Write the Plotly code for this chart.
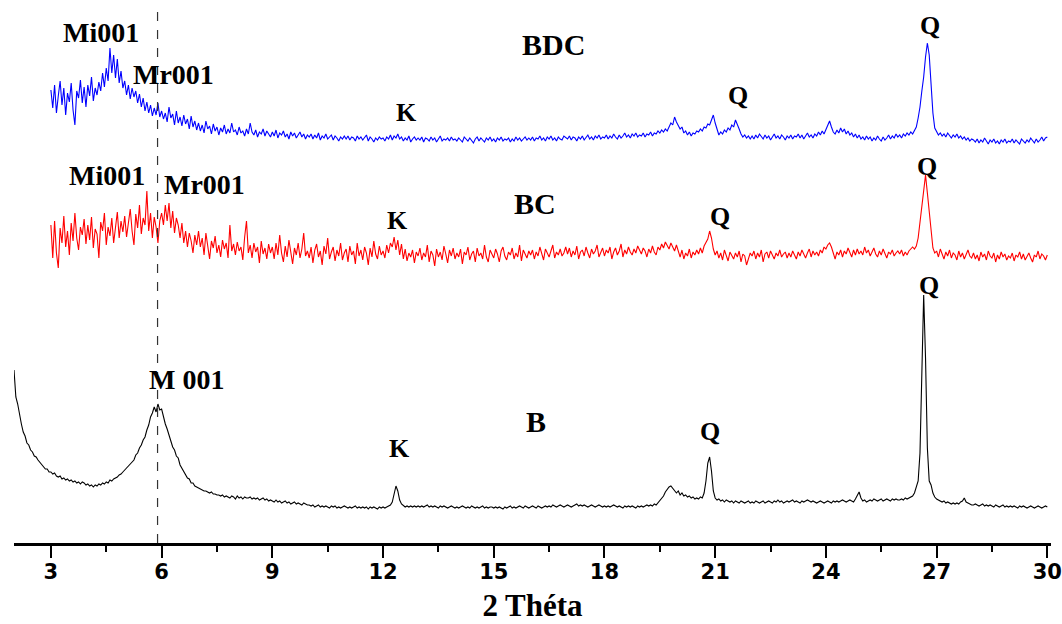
import numpy as np
import plotly.graph_objects as go

# XRD patterns: intensity (a.u., stacked offsets) vs 2θ, step 0.05°
STEP = 0.05
B_START = 2.0      # raw bentonite pattern starts at 2°
BC_START = 3.0     # BC and BDC patterns start at 3°

b_intensity = [
    173,146,139,127,119,111,107,100,98,93,91,87,86,83,81,78,77,74,74,71,
    71,69,70,67,66,67,64,65,63,64,62,63,61,62,60,61,59,61,60,58,
    59,57,58,56,58,57,59,58,60,59,61,60,63,62,64,65,66,68,69,71,
    73,74,77,78,81,83,88,90,95,98,103,106,113,118,126,130,136,131,139,133,
    134,125,119,114,107,102,96,93,87,85,78,75,71,69,65,64,60,60,57,56,
    55,54,53,52,52,51,50,51,49,49,48,48,47,48,46,47,46,45,47,46,
    44,47,45,46,44,46,45,45,46,44,45,44,45,43,44,45,43,44,42,43,
    42,41,43,41,42,40,41,42,40,41,39,40,41,39,40,39,38,40,39,38,
    38,37,38,36,37,38,36,37,36,37,36,35,37,36,37,35,36,35,36,37,
    36,35,36,35,36,37,35,36,35,36,35,36,34,36,35,36,35,34,36,35,
    36,35,36,37,38,41,48,57,52,43,39,37,36,37,36,37,36,37,36,37,
    36,37,36,37,38,36,37,36,37,36,35,37,36,37,36,35,36,37,36,35,
    36,35,36,37,36,35,36,35,37,36,35,36,35,36,37,35,36,35,36,36,
    35,36,35,36,35,34,36,35,36,37,35,36,35,36,37,36,35,37,36,35,
    36,37,36,35,37,36,35,36,37,36,37,36,38,37,36,37,38,37,36,37,
    38,37,36,37,38,39,37,38,37,38,37,36,37,38,37,36,37,38,37,36,
    37,36,37,36,37,38,37,36,37,36,35,37,36,37,36,37,36,35,37,36,
    37,36,37,38,37,38,37,39,38,40,42,44,47,51,54,56,57,55,52,50,
    52,48,50,47,48,46,47,45,46,44,45,44,46,45,50,62,80,86,72,52,
    45,43,44,42,43,41,43,42,41,42,40,42,41,40,42,41,40,41,42,40,
    41,40,42,41,40,41,42,40,41,42,41,40,42,41,43,41,42,40,41,42,
    41,42,43,41,42,41,40,42,41,42,43,42,41,42,41,40,41,42,41,40,
    41,42,41,40,42,41,42,41,42,43,42,41,42,43,42,41,44,48,51,45,
    42,43,41,42,43,42,44,43,42,43,44,42,43,44,43,42,44,43,44,43,
    43,44,43,45,44,45,46,47,50,55,62,90,170,248,185,95,62,58,50,46,
    44,43,42,41,42,40,41,40,39,40,39,40,39,41,42,45,41,40,39,38,
    38,39,38,37,38,39,37,38,37,38,37,36,38,37,36,37,38,36,37,36,
    37,36,37,36,35,37,36,37,36,35,36,37,36,35,36,37,36,35,36,37,
    36,
]

bc_intensity = [
    318,285,322,290,275,315,300,327,296,312,288,320,302,330,305,293,316,308,324,299,
    318,303,326,295,314,309,285,321,312,330,298,316,307,325,300,318,331,305,322,311,
    327,306,320,334,312,298,329,315,338,309,325,318,352,312,330,305,326,316,300,322,
    330,318,338,322,340,315,332,310,325,318,305,320,300,312,296,310,302,290,308,298,
    312,296,305,288,310,299,284,302,295,307,290,298,286,303,294,300,285,318,292,299,
    288,301,292,296,283,306,322,290,298,285,300,291,296,280,302,289,295,284,299,290,
    296,284,300,288,308,290,281,297,286,303,291,279,295,288,300,285,294,310,287,292,
    285,296,280,293,299,286,292,278,297,289,305,284,291,296,282,293,287,300,283,290,
    294,281,297,288,292,279,300,287,293,283,296,290,278,295,286,302,289,284,297,288,
    292,285,298,290,300,296,306,293,303,288,299,284,294,282,290,286,293,280,291,287,
    295,283,290,286,298,281,292,288,277,294,286,291,283,297,289,280,293,287,295,284,
    290,286,294,279,291,288,296,283,289,292,281,295,287,290,284,298,286,281,293,288,
    285,294,289,281,292,296,287,283,291,288,295,284,290,286,298,282,293,289,285,292,
    288,293,284,291,287,296,290,283,294,289,286,292,298,285,291,288,294,287,290,296,
    289,295,286,292,288,297,284,291,293,287,296,290,285,294,289,292,298,286,291,295,
    287,293,290,296,284,291,295,288,292,299,286,293,289,296,291,288,294,290,297,292,
    289,295,292,286,294,290,297,291,288,296,293,299,295,301,297,294,300,296,292,298,
    291,286,293,284,290,287,294,285,291,288,293,289,295,290,297,300,304,312,305,294,
    288,292,285,290,283,293,287,282,291,288,284,290,286,292,281,289,287,278,285,290,
    287,292,284,290,286,293,281,289,291,285,292,288,284,290,287,293,286,289,291,285,
    290,286,292,288,284,291,287,293,289,285,290,294,286,292,288,291,287,293,290,296,
    294,298,300,296,290,284,291,288,293,286,292,289,295,290,286,293,288,294,289,292,
    288,296,290,293,287,291,295,289,286,292,288,294,290,285,291,289,293,287,290,292,
    289,293,287,291,288,292,294,296,294,297,305,322,335,356,368,350,330,311,295,290,
    292,286,294,289,284,291,287,293,285,290,288,283,292,286,290,284,289,293,287,285,
    290,284,288,282,291,286,289,283,292,287,285,290,281,288,284,291,286,289,283,287,
    285,290,282,288,286,291,284,289,283,287,290,285,281,288,286,292,284,289,287,283,
    288,
]

bdc_intensity = [
    453,435,458,430,447,462,438,455,428,450,441,460,433,418,452,445,463,440,456,436,
    458,447,466,442,455,448,461,452,470,456,475,462,495,470,488,465,484,460,472,455,
    462,448,458,444,455,446,452,440,449,436,445,432,441,430,438,427,435,428,440,426,
    432,424,430,421,436,425,429,418,432,420,426,417,428,419,424,414,427,416,422,413,
    420,412,418,410,422,414,417,409,419,412,416,408,415,411,418,409,414,410,420,411,
    413,408,416,410,412,407,414,409,420,411,408,413,406,411,409,414,407,412,409,406,
    411,407,413,405,410,408,412,406,409,404,411,407,410,405,408,411,406,409,404,408,
    406,409,404,408,405,410,403,407,405,409,404,406,408,403,407,405,402,406,404,407,
    404,407,403,406,405,402,407,404,406,403,405,408,402,406,404,401,405,403,406,404,
    405,402,406,404,408,403,407,405,409,404,406,402,405,403,407,401,404,406,403,405,
    403,406,401,405,404,402,406,403,405,401,404,407,402,404,403,405,402,406,403,404,
    402,405,403,401,406,404,402,405,403,400,404,406,402,405,403,401,405,403,406,402,
    404,401,405,403,406,402,404,403,405,401,404,402,406,403,405,402,404,406,403,405,
    403,406,402,405,404,407,403,405,402,406,404,407,403,405,402,406,404,403,407,405,
    404,407,403,406,405,402,406,404,407,403,405,408,404,406,403,407,405,408,404,406,
    405,408,404,407,405,409,406,404,408,405,407,410,406,408,405,409,407,410,406,408,
    407,410,406,409,408,411,407,410,409,412,410,413,411,414,412,416,420,418,426,421,
    418,414,416,410,412,408,411,407,410,409,412,411,414,412,416,415,419,418,423,428,
    420,413,408,411,409,413,411,415,413,418,416,423,419,414,409,406,408,405,407,404,
    407,404,408,405,409,406,404,408,405,407,403,406,409,405,407,404,408,406,403,407,
    405,408,404,407,406,409,405,408,404,407,410,406,408,405,409,407,411,408,412,409,
    413,418,422,416,411,409,413,410,415,411,414,409,412,408,410,406,409,405,408,404,
    406,403,407,404,406,402,405,403,407,404,402,406,403,405,408,404,407,405,409,406,
    408,405,409,407,410,408,411,409,413,416,425,436,452,466,486,500,488,462,430,415,
    411,408,410,407,409,406,410,407,405,408,406,409,405,407,404,406,403,405,402,404,
    403,401,404,400,403,401,405,402,399,403,401,404,400,402,399,403,401,404,400,402,
    401,404,400,403,401,399,404,402,400,403,401,405,402,400,404,401,403,406,402,405,
    406,
]

two_theta_b = np.round(B_START + STEP * np.arange(len(b_intensity)), 2)
two_theta_bc = np.round(BC_START + STEP * np.arange(len(bc_intensity)), 2)
two_theta_bdc = np.round(BC_START + STEP * np.arange(len(bdc_intensity)), 2)

# reflection labels: (text, 2θ, intensity level, font size)
peak_labels = [
    ("Mi001", 4.35, 511, 28), ("Mr001", 6.33, 469, 28), ("BDC", 16.63, 499, 30),
    ("K", 12.63, 431, 26), ("Q", 21.63, 448, 26), ("Q", 26.83, 518, 26),
    ("Mi001", 4.52, 368, 28), ("Mr001", 7.17, 359, 28), ("BC", 16.12, 340, 30),
    ("K", 12.39, 323, 26), ("Q", 21.12, 327, 26), ("Q", 26.75, 377, 26),
    ("M 001", 6.68, 164, 28), ("K", 12.44, 95, 26), ("B", 16.14, 122, 30),
    ("Q", 20.85, 112, 26), ("Q", 26.80, 258, 26),
]

MONT_001 = 5.89  # montmorillonite d001 position

fig = go.Figure()
fig.add_trace(go.Scatter(x=two_theta_b, y=b_intensity, mode="lines",
                         line=dict(color="black", width=1.1), name="B"))
fig.add_trace(go.Scatter(x=two_theta_bc, y=bc_intensity, mode="lines",
                         line=dict(color="#ff0000", width=1.1), name="BC"))
fig.add_trace(go.Scatter(x=two_theta_bdc, y=bdc_intensity, mode="lines",
                         line=dict(color="#0000ff", width=1.1), name="BDC"))

fig.add_shape(type="line", xref="x", yref="y", x0=MONT_001, x1=MONT_001,
              y0=0, y1=533, line=dict(color="#333333", width=1.2, dash="dash"))

for text, xv, yv, size in peak_labels:
    fig.add_annotation(x=xv, y=yv, xref="x", yref="y", text=text, showarrow=False,
                       font=dict(family="Liberation Serif", size=size,
                                 color="black", weight="bold"))

fig.update_layout(
    width=1062, height=624,
    margin=dict(l=14, r=9, t=0, b=81),
    paper_bgcolor="white", plot_bgcolor="white",
    showlegend=False,
    xaxis=dict(
        range=[2, 30.1], tickmode="linear", tick0=0, dtick=3,
        showline=True, linecolor="black", linewidth=2.5,
        ticks="outside", ticklen=12, tickwidth=2, tickcolor="black",
        minor=dict(dtick=1.5, tick0=0, ticks="outside", ticklen=6,
                   tickwidth=1.5, tickcolor="black"),
        showgrid=False, zeroline=False,
        ticklabeloverflow="allow", ticklabelstandoff=-4,
        tickfont=dict(family="DejaVu Sans", size=21, color="black", weight="bold"),
        title=dict(text="2 Théta", standoff=12,
                   font=dict(family="Liberation Serif", size=31, color="black",
                             weight="bold")),
    ),
    yaxis=dict(visible=False, range=[0, 543]),
)

fig.write_html("out.html")
